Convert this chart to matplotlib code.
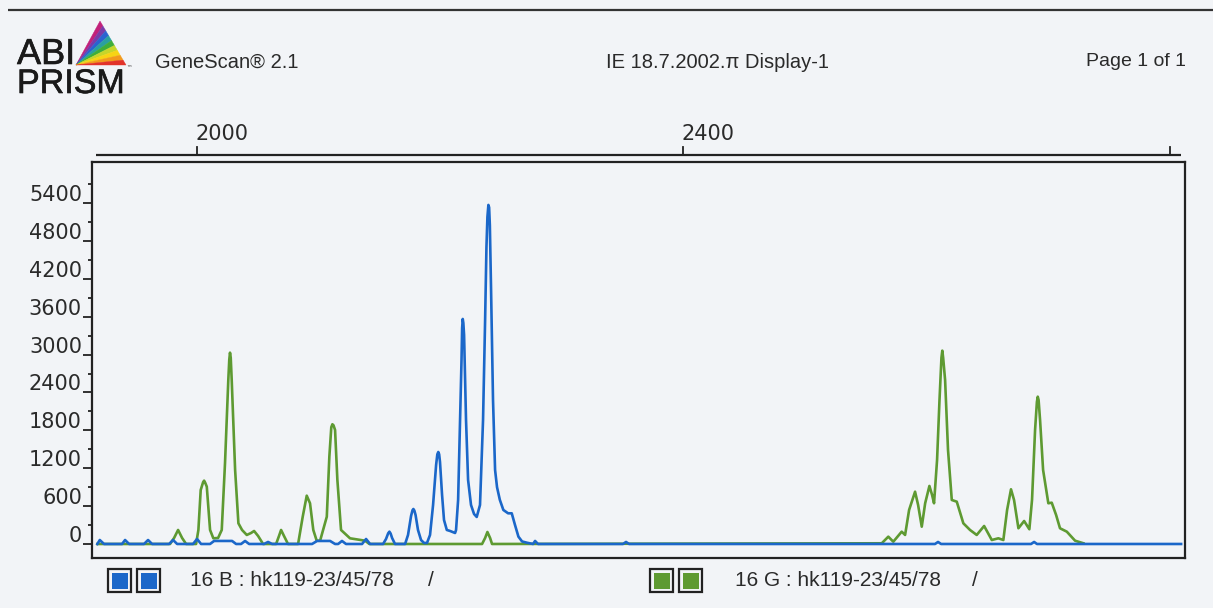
import matplotlib
matplotlib.use("Agg")
import matplotlib.pyplot as plt
from matplotlib.transforms import offset_copy, blended_transform_factory
from matplotlib.patches import Polygon, Rectangle
import matplotlib.patheffects as pe

# ---------------- data ----------------
blue_x = [1918, 1920, 1923.5, 1938.3, 1940.8, 1944.1, 1956.4, 1959.7, 1963, 1977, 1980.3, 1983.6,
          1996.7, 2000, 2003.3, 2010.7, 2014, 2028.8, 2032.1, 2036.2, 2039.5, 2042.8, 2055.1, 2058.4,
          2061.7, 2094.6, 2098.7, 2109.4, 2113.5, 2116, 2119.2, 2122.5, 2135.7, 2139, 2142.3, 2153,
          2155.4, 2157.2, 2158.2, 2159.2, 2160.4, 2162.8, 2171.1, 2173.5, 2176, 2177.2, 2177.9, 2178.7,
          2179.7, 2181.7, 2184.2, 2186.7,
          2189.1, 2191.6, 2194.1, 2196.6, 2197.6, 2198.4, 2199.1, 2199.8, 2201.5, 2203.1, 2205.4, 2208.1,
          2212.2, 2213,
          2214.7, 2216.3, 2217.5, 2218.0, 2218.5, 2219.0, 2219.6, 2221.2, 2222.9, 2225.3, 2227.8, 2230,
          2232.7, 2235.2,
          2236.9, 2238.0, 2238.8, 2239.6, 2240.2, 2240.8, 2241.8, 2243.4, 2245.1, 2246.7, 2249, 2251.9,
          2255.8, 2258.8,
          2261.5, 2264.3, 2267.3, 2271.1, 2276.3, 2278, 2280.4, 2350.3, 2352.8, 2355.3, 2606.9, 2609.4,
          2611.9, 2685.9, 2688.4, 2690.8, 2809.3]
blue_y = [0, 63, 0, 0, 63, 0, 0, 63, 0, 0, 63, 0,
          0, 79, 0, 0, 48, 48, 0, 0, 48, 0, 0, 32,
          0, 0, 48, 48, 0, 0, 48, 0, 0, 79, 0, 0,
          79, 170, 195, 165, 95, 0, 0, 143, 444, 535, 554, 530,
          460, 222, 63, 16,
          16, 143, 618, 1251, 1420, 1457, 1420, 1299, 776, 380, 222, 206,
          174, 222,
          697, 1964, 2915, 3420, 3564, 3500, 3311, 1964, 1014, 618, 475, 428,
          618, 1964,
          3548, 4700, 5180, 5370, 5330, 5050, 4023, 2281, 1172, 900, 700, 539,
          486, 486,
          300, 116, 40, 21, 0, 48, 0, 0, 32, 0, 0, 32,
          0, 0, 32, 0, 0]

green_x = [1918, 1977.8, 1981.1, 1984.4, 1987.7, 1991, 1999.2, 2001.1, 2003, 2005.0, 2005.8, 2006.7,
           2008, 2010.7,
           2013.4, 2017.3, 2020.3, 2023, 2025.7, 2026.5, 2027.1, 2027.7, 2028.5, 2031.3, 2034, 2037,
           2040.9, 2044.4,
           2046.9, 2050.2, 2054.3, 2065, 2067.4, 2069.1, 2071.5, 2074.8, 2083.1, 2086.9, 2090.2, 2092.9,
           2095.6, 2098.4, 2101.2, 2106.7, 2108.8, 2110.4, 2111.3, 2112.2, 2113.5, 2115.4, 2118.4,
           2125.8, 2138.2, 2141.7,
           2234.4, 2236.9, 2238.8, 2241, 2242.6, 2563.1, 2568.5, 2572.6, 2579.5, 2582.3, 2585.6, 2590.5,
           2593, 2596, 2598.8, 2602.3, 2604.5, 2606.1, 2608.6, 2610.6, 2612.2, 2612.9, 2613.6, 2615.2,
           2617.6, 2620.7,
           2624.8, 2630.2, 2635.7, 2641.2, 2647.3, 2653.6, 2659, 2663.1, 2666.2, 2669.4, 2671.9, 2675.5,
           2680.2, 2684.5, 2686.7, 2689.2, 2690.7, 2691.4, 2692.1, 2693.3, 2695.8, 2700.1, 2702.9,
           2706.5, 2709.7, 2715.3,
           2722.1, 2729]
green_y = [0, 0, 95, 222, 95, 0, 0, 222, 855, 980, 1003, 970,
           908, 222,
           90, 95, 222, 1283, 2598, 2920, 3030, 2950, 2598, 1172, 328, 222,
           143, 174,
           206, 127, 0, 0, 127, 222, 127, 0, 0, 432, 765, 645,
           222, 52, 52, 432, 1383, 1850, 1896, 1880, 1806, 1014, 222,
           90, 52, 0,
           0, 95, 190, 95, 0, 11, 116, 36, 195, 143, 539, 828,
           618, 274, 645, 919, 776, 645, 1331, 2281, 2950, 3062, 2950, 2598,
           1489, 697,
           670, 328, 222, 143, 285, 63, 90, 63, 539, 866, 697, 249,
           364, 233, 700, 1806, 2250, 2333, 2280, 1964, 1172, 645, 654,
           459, 249, 195,
           52, 11]

y_major = [0, 600, 1200, 1800, 2400, 3000, 3600, 4200, 4800, 5400]
y_minor = [300, 900, 1500, 2100, 2700, 3300, 3900, 4500, 5100, 5700]
top_ticks = [2000, 2400, 2800]
top_labels = ["2000", "2400", ""]
legend_texts = ["16 B : hk119-23/45/78", "16 G : hk119-23/45/78"]

# ---------------- styling ----------------
BG = "#f2f4f7"
BLUE = "#1b67c9"
GREEN = "#5e9a32"
DARK = "#222222"
TXT = "#2a2a2a"
W, H = 1213, 608

fig = plt.figure(figsize=(W / 100, H / 100), dpi=100, facecolor=BG)

# decoration layer in pixel coordinates
deco = fig.add_axes([0, 0, 1, 1])
deco.set_xlim(0, W)
deco.set_ylim(H, 0)
deco.axis("off")
deco.set_facecolor("none")

# top rule
deco.plot([8, W], [10, 10], color="#333333", lw=1.6, solid_capstyle="butt")

# logo text
semi = [pe.withStroke(linewidth=0.45, foreground="#1a1a1a")]
deco.text(17, 64, "ABI", fontsize=26, family="Liberation Sans", color="#1a1a1a",
          ha="left", va="baseline", path_effects=semi)
deco.text(17, 93, "PRISM", fontsize=24.5, family="Liberation Sans", color="#1a1a1a",
          ha="left", va="baseline", path_effects=semi)
deco.text(126, 70, "™", fontsize=4, color="#333333", ha="left", va="baseline")
# logo prism with fan of colours from lower-left vertex
apex = (100, 21)
bl = (76, 65)
br = (126, 65)
fan_cols = ["#c2207a", "#7a3aa8", "#2a63d0", "#2aa0a0", "#3fae3a", "#c6d62a",
            "#f7d414", "#f29a1c", "#e2332a"]
n = len(fan_cols)
for i, c in enumerate(fan_cols):
    t0, t1 = i / n, (i + 1) / n
    p0 = (apex[0] + (br[0] - apex[0]) * t0, apex[1] + (br[1] - apex[1]) * t0)
    p1 = (apex[0] + (br[0] - apex[0]) * t1, apex[1] + (br[1] - apex[1]) * t1)
    deco.add_patch(Polygon([bl, p0, p1], closed=True, facecolor=c, edgecolor=c, lw=0.3))

# header texts
deco.text(155, 62, "GeneScan® 2.1", fontsize=14.5, family="Liberation Sans", color=TXT,
          ha="left", va="center")
deco.text(606, 62, "IE 18.7.2002.\u03c0 Display-1", fontsize=14.5, family="Liberation Sans",
          color=TXT, ha="left", va="center")
deco.text(1186, 62, "Page 1 of 1", fontsize=14, family="Liberation Sans", color=TXT,
          ha="right", va="center")

# legend squares and texts
def legend_square(x, color):
    deco.add_patch(Rectangle((x, 569), 23, 23, facecolor=BG, edgecolor=DARK, lw=1.6))
    deco.add_patch(Rectangle((x + 3.5, 572.5), 16, 16, facecolor=color, edgecolor="none"))

legend_square(108, BLUE)
legend_square(137, BLUE)
legend_square(650, GREEN)
legend_square(679, GREEN)
deco.text(190, 581, legend_texts[0], fontsize=15, family="Liberation Sans", color=TXT,
          ha="left", va="center")
deco.text(428, 581, "/", fontsize=15, family="Liberation Sans", color=TXT,
          ha="left", va="center")
deco.text(735, 581, legend_texts[1], fontsize=15, family="Liberation Sans", color=TXT,
          ha="left", va="center")
deco.text(972, 581, "/", fontsize=15, family="Liberation Sans", color=TXT,
          ha="left", va="center")

# ---------------- main plot ----------------
ax = fig.add_axes([92 / W, 1 - 558 / H, (1185 - 92) / W, (558 - 162) / H])
ax.set_facecolor(BG)
ax.set_xlim(1913.6, 2812.5)
ax.set_ylim(-222, 6050)

ax.plot(green_x, green_y, color=GREEN, lw=1.9, solid_joinstyle="round")
ax.plot(blue_x, blue_y, color=BLUE, lw=1.9, solid_joinstyle="round")

for s in ax.spines.values():
    s.set_color(DARK)
    s.set_linewidth(1.6)

ax.set_xticks([])
ax.set_yticks(y_major)
ax.set_yticks(y_minor, minor=True)
ax.tick_params(axis="y", which="major", direction="out", length=6.5, width=1.3,
               color=DARK, labelleft=False)
ax.tick_params(axis="y", which="minor", direction="out", length=3, width=1.3, color=DARK)

ylab_tr = offset_copy(ax.get_yaxis_transform(), fig=fig, x=-10, y=8, units="dots")
for v in y_major:
    ax.text(0, v, str(v), transform=ylab_tr, ha="right", va="center", fontsize=15,
            family="DejaVu Sans", color=TXT, clip_on=False)

# top scale line with upward ticks
top_tr = blended_transform_factory(ax.transData, fig.transFigure)
y_line = 1 - 155 / H
y_tick = 1 - 147 / H
ax.plot([1917.3, 2809.6], [y_line, y_line], transform=top_tr, color=DARK, lw=1.6,
        clip_on=False, solid_capstyle="butt")
for t, lab in zip(top_ticks, top_labels):
    ax.plot([t, t], [y_line, y_tick], transform=top_tr, color=DARK, lw=1.3, clip_on=False)
    if lab:
        ax.text(t, 1 - 140 / H, lab, transform=offset_copy(top_tr, fig=fig, x=-2, y=0, units="dots"),
                ha="left", va="baseline", fontsize=15, family="DejaVu Sans", color=TXT,
                clip_on=False)

fig.savefig("out.png", dpi=100, facecolor=BG)
